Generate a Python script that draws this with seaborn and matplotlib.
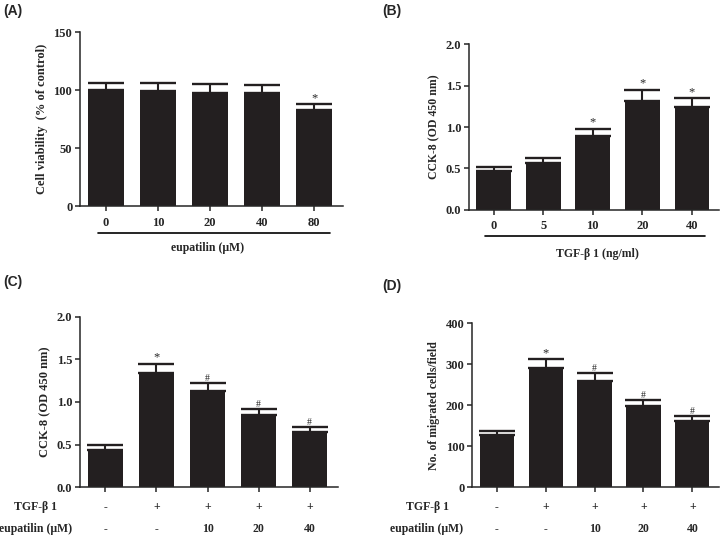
import pandas as pd
import matplotlib.pyplot as plt
import seaborn as sns

# (A) cell viability
a_dose = ["0", "10", "20", "40", "80"]
a_mean = [100, 99, 98, 98, 83]
a_err = [6.5, 7, 7, 6.5, 5]
a_mark = ["", "", "", "", "*"]

# (B) CCK-8 vs TGF-b1
b_dose = ["0", "5", "10", "20", "40"]
b_mean = [0.47, 0.57, 0.89, 1.31, 1.24]
b_err = [0.05, 0.06, 0.09, 0.14, 0.11]
b_mark = ["", "", "*", "*", "*"]

# (C) CCK-8, TGF-b1 + eupatilin
c_mean = [0.43, 1.34, 1.13, 0.85, 0.65]
c_err = [0.06, 0.11, 0.09, 0.07, 0.05]
c_mark = ["", "*", "#", "#", "#"]

# (D) migrated cells
d_mean = [128, 290, 258, 199, 162]
d_err = [9, 22, 20, 14, 12]
d_mark = ["", "*", "#", "#", "#"]

tgf_row = ["-", "+", "+", "+", "+"]
eup_row = ["-", "-", "10", "20", "40"]
groups = ["g1", "g2", "g3", "g4", "g5"]

sns.set_style("ticks")
plt.rcParams["font.family"] = ["Liberation Serif", "DejaVu Serif"]
plt.rcParams["font.weight"] = "bold"

bar_color = "#231f20"
fig = plt.figure(figsize=(7.2, 5.37), dpi=100)

ax_a = fig.add_axes([0.111, 0.616, 0.365, 0.324])
ax_b = fig.add_axes([0.651, 0.609, 0.348, 0.309])
ax_c = fig.add_axes([0.111, 0.093, 0.358, 0.317])
ax_d = fig.add_axes([0.656, 0.093, 0.343, 0.305])


def draw(ax, cats, mean, err, mark, ymax, yticks, ylabel, lab_fs):
    df = pd.DataFrame({"x": cats, "y": mean})
    sns.barplot(data=df, x="x", y="y", order=cats, color=bar_color,
                saturation=1, width=0.7, errorbar=None, ax=ax,
                edgecolor=bar_color, linewidth=0, zorder=2)
    xs = range(len(cats))
    ax.errorbar(xs, mean, yerr=[[0] * len(err), err], fmt="none",
                ecolor=bar_color, elinewidth=1.5, capsize=13, capthick=1.7,
                zorder=1)
    for x, m, e, s in zip(xs, mean, err, mark):
        if s:
            fs = 9 if s == "*" else 7
            ax.text(x, m + e, s, ha="center", va="bottom",
                    fontsize=fs, fontweight="normal")
    ax.set_ylim(0, ymax)
    ax.set_yticks(yticks)
    ax.set_xlim(-0.5, 4.55)
    ax.set_xlabel("")
    ax.set_ylabel(ylabel, fontsize=lab_fs, fontweight="bold")
    ax.tick_params(labelsize=9, width=1.1, length=3.5, pad=2)
    for sp in ["left", "bottom"]:
        ax.spines[sp].set_linewidth(1.1)
    sns.despine(ax=ax)


draw(ax_a, a_dose, a_mean, a_err, a_mark, 150, [0, 50, 100, 150],
     "Cell viability  (% of control)", 9)
ax_a.set_yticklabels(["0", "50", "100", "150"])
draw(ax_b, b_dose, b_mean, b_err, b_mark, 2.0, [0, 0.5, 1.0, 1.5, 2.0],
     "CCK-8 (OD 450 nm)", 8.5)
ax_b.set_yticklabels(["0.0", "0.5", "1.0", "1.5", "2.0"])
draw(ax_c, groups, c_mean, c_err, c_mark, 2.0, [0, 0.5, 1.0, 1.5, 2.0],
     "CCK-8 (OD 450 nm)", 9)
ax_c.set_yticklabels(["0.0", "0.5", "1.0", "1.5", "2.0"])
draw(ax_d, groups, d_mean, d_err, d_mark, 400, [0, 100, 200, 300, 400],
     "No. of migrated cells/field", 8.5)

ax_a.tick_params(axis="x", pad=4)
ax_b.tick_params(axis="x", pad=4)

# dose brackets under A and B
ax_a.plot([-0.15, 4.3], [-0.155, -0.155], color="black", lw=1.2,
          transform=ax_a.get_xaxis_transform(), clip_on=False)
ax_a.text(1.95, -0.24, "eupatilin (μM)", ha="center", va="center",
          fontsize=8.5, transform=ax_a.get_xaxis_transform())
ax_b.plot([-0.18, 4.27], [-0.157, -0.157], color="black", lw=1.2,
          transform=ax_b.get_xaxis_transform(), clip_on=False)
ax_b.text(2.1, -0.265, "TGF-β 1 (ng/ml)", ha="center", va="center",
          fontsize=8.5, transform=ax_b.get_xaxis_transform())

# treatment rows under C and D
for ax, x_lab in [(ax_c, 36), (ax_d, 427)]:
    ax.set_xticklabels([])
    tr = ax.get_xaxis_transform()
    h = ax.get_position().height * 537
    y1 = -20 / h
    y2 = -42 / h
    for i, (t, e) in enumerate(zip(tgf_row, eup_row)):
        ax.text(i, y1, t, ha="center", va="center", fontsize=8.5, transform=tr)
        ax.text(i, y2, e, ha="center", va="center", fontsize=8.5, transform=tr)
    fig.text(x_lab / 720, 1 - 507 / 537, "TGF-β 1", ha="center", va="center",
             fontsize=8.5)
    fig.text(x_lab / 720, 1 - 529 / 537, "eupatilin (μM)", ha="center",
             va="center", fontsize=8.5)

# panel letters
for lbl, x, y in [("(A)", 3, 11), ("(B)", 382, 11), ("(C)", 3, 282),
                  ("(D)", 382, 286)]:
    fig.text(x / 720, 1 - y / 537, lbl, ha="left", va="center", fontsize=10,
             fontweight="bold", family=["Liberation Sans", "DejaVu Sans"])

fig.savefig("out.png", dpi=100)
